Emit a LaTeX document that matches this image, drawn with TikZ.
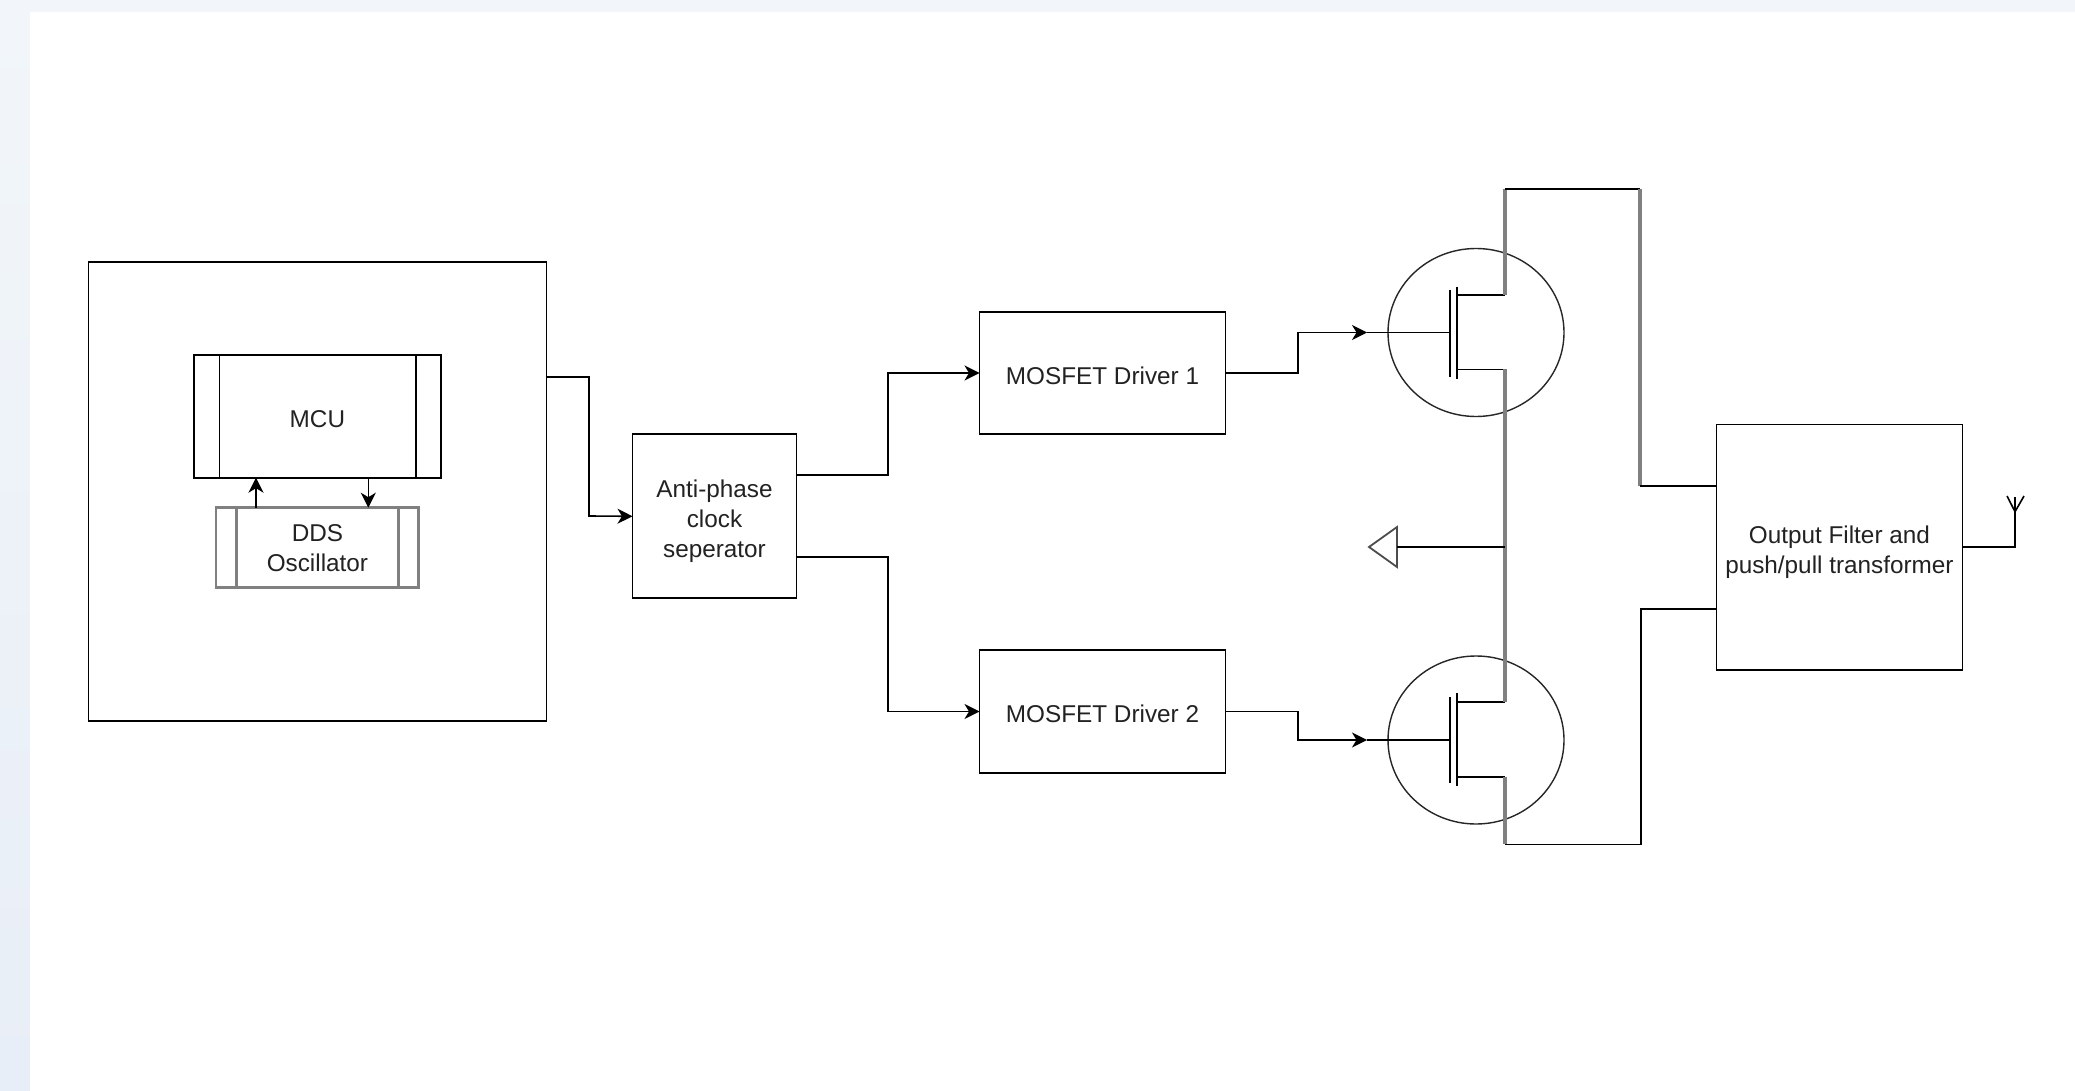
\documentclass[tikz,border=0pt]{standalone}
\usepackage{fontspec}
\setmainfont{Liberation Sans}
\usetikzlibrary{arrows.meta,shapes.geometric}
\definecolor{pagetop}{HTML}{F2F6FA}
\definecolor{pagebot}{HTML}{E8EEF7}
\definecolor{txt}{HTML}{222222}
\definecolor{wire}{HTML}{808080}
\newcommand{\lbl}[2][10pt]{\vbox{\kern#1\hbox{\begin{tabular}{@{}c@{}}#2\end{tabular}}}}
\tikzset{
  blk/.style={draw=black,line width=1.7pt,fill=white,outer sep=0pt,inner sep=0pt,text=txt,font=\fontsize{24.3}{30}\selectfont},
  grayblk/.style={blk,draw=wire,line width=2.8pt},
  conn/.style={draw=black,line width=1.6pt,line join=miter},
  arr/.style={conn,-{Stealth[length=15pt,width=15pt,inset=4.5pt]}},
  thick wire/.style={draw=wire,line width=3.2pt},
  thin wire/.style={draw=black,line width=1.6pt},
  fet/.style={ellipse,draw=black!85,line width=1.4pt,minimum width=176pt,minimum height=168pt,outer sep=0pt,inner sep=0pt},
}
\begin{document}
\begin{tikzpicture}[x=1pt,y=-1pt]
\useasboundingbox (0,0) rectangle (2075,1091);
\fill[top color=pagetop,bottom color=pagebot] (0,0) rectangle (30,1091);
\fill[pagetop] (30,0) rectangle (2075,12);
\fill[white] (30,12) rectangle (2075,1091);

% boxes
\node[blk,minimum width=458pt,minimum height=459pt] (outer) at (317.5,491.5) {};
\node[blk,minimum width=246.7pt,minimum height=123pt] (mcu) at (317.4,416.2) {\lbl{MCU}};
\node[grayblk,minimum width=202.7pt,minimum height=79.6pt] (dds) at (317.4,547.5) {\lbl[6pt]{DDS\\Oscillator}};
\node[blk,minimum width=164pt,minimum height=164pt] (clk) at (714.5,516.3) {\lbl{Anti-phase\\clock\\seperator}};
\node[blk,minimum width=246pt,minimum height=122pt] (drv1) at (1102.5,373) {\lbl{MOSFET Driver 1}};
\node[blk,minimum width=246pt,minimum height=123pt] (drv2) at (1102.5,711.5) {\lbl{MOSFET Driver 2}};
\node[blk,minimum width=246pt,minimum height=245.7pt] (filt) at (1839.4,547.2) {\lbl{Output Filter and\\push/pull transformer}};
\node[fet] (q1) at (1476,332.5) {};
\node[fet] (q2) at (1476,740) {};

% inner bars of the process boxes
\draw[thin wire] (219.3,354.7) -- (219.3,477.7) (415.7,354.7) -- (415.7,477.7);
\draw[draw=wire,line width=2.8pt] (236.7,507.7) -- (236.7,587.3) (398.7,507.7) -- (398.7,587.3);

% named points
\coordinate (a1) at (256,507.7);
\coordinate (a2) at (256,477.7);
\coordinate (b1) at (368.3,477.7);
\coordinate (b2) at (368.3,507.7);
\coordinate (o1) at (546.5,377);
\coordinate (c1) at (796.5,475);
\coordinate (c2) at (796.5,557);
\coordinate (g1) at (1367,332.5);
\coordinate (g2) at (1367,740);
\coordinate (gb1) at (1450,332.5);
\coordinate (gb2) at (1450,740);
\coordinate (d1) at (1457,295);
\coordinate (s1) at (1457,369.3);
\coordinate (d2) at (1457,702);
\coordinate (s2) at (1457,776.7);
\coordinate (bus) at (1505,547);
\coordinate (gndb) at (1397,547);
\coordinate (f1) at (1716,486);
\coordinate (f2) at (1716,609);
\coordinate (ant) at (2015,511.7);

% signal connectors
\draw[arr] (a1) -- (a2);
\draw[arr] (b1) -- (b2);
\draw[arr] (o1) -| (589,516) -- (clk.west);
\draw[arr] (c1) -| (888,373) -- (drv1.west);
\draw[arr] (c2) -| (888,711.5) -- (drv2.west);
\draw[arr] (drv1.east) -| (1298,332.5) -- (g1);
\draw[arr] (drv2.east) -| (1298,740) -- (g2);
\draw[thin wire] (g1) -- (gb1);
\draw[thin wire] (g2) -- (gb2);

% gates
\draw[line width=2.4pt] (1450,290) -- (1450,376.7);
\draw[line width=2.4pt] (1457,286.7) -- (1457,379);
\draw[line width=2.4pt] (1450,697) -- (1450,783);
\draw[line width=2.4pt] (1457,693) -- (1457,786);

% drain/source wiring
\draw[thin wire] (s1) -- (1505,369.3);
\draw[thin wire] (d1) -- (1505,295);
\draw[thin wire] (d2) -- (1505,702);
\draw[thin wire] (s2) -- (1505,776.7);
\draw[thick wire] (1505,295) -- (1505,189.3);
\draw[thick wire] (1505,369.3) -- (1505,702);
\draw[thick wire] (1505,776.7) -- (1505,844.3);
\draw[thin wire] (1505,189.3) -- (1640,189.3);
\draw[thick wire] (1640,189.3) -- (1640,486);
\draw[thin wire] (1640,486) -- (f1);
\draw[thin wire] (1505,844.3) -- (1641,844.3) -- (1641,609) -- (f2);

% ground
\draw[draw=black!70,line width=1.8pt,line join=miter] (1369,547) -- (1397,527) -- (1397,567) -- cycle;
\draw[thin wire] (bus) -- (gndb);

% antenna
\draw[thin wire] (filt.east) -| (ant);
\draw[thin wire] (ant) -- (2015,497) (ant) -- (2007,496) (ant) -- (2024,496);
\end{tikzpicture}
\end{document}
